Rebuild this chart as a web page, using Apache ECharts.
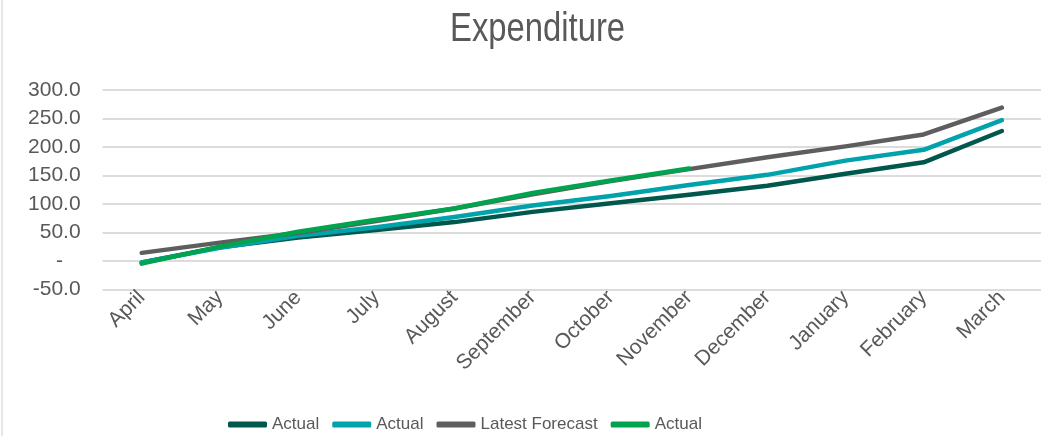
<!DOCTYPE html>
<html>
<head>
<meta charset="utf-8">
<title>Expenditure</title>
<script src="https://cdn.jsdelivr.net/npm/echarts@6/dist/echarts.min.js"></script>
<style>
  html, body { margin: 0; padding: 0; background: #ffffff; }
  #chart { width: 1041px; height: 436px; }
</style>
</head>
<body>
<div id="chart"></div>
<script>
// Months of the financial year
const months = ['April', 'May', 'June', 'July', 'August', 'September', 'October',
  'November', 'December', 'January', 'February', 'March'];

// Cumulative expenditure per month
const actualDark = [-3, 24, 41, 54, 68, 86, 101, 116, 132, 153, 173, 228];
const actualTeal = [-3, 23, 44, 59, 77, 97, 114, 133, 151, 176, 195, 247];
const latestForecast = [14, 32, 49, 70, 92, 117, 140, 161, 182, 201, 222, 269];
const actualGreen = [-5, 25, 51, 72, 92, 119, 141, 162, null, null, null, null];

// Value axis range
const yMin = -50;
const yMax = 300;
const yStep = 50;

const textGrey = '#595959';
const chart = echarts.init(document.getElementById('chart'), null, { renderer: 'canvas' });

// Series names must be unique for the legend; trailing spaces are trimmed when shown
function lineSeries(name, data, color) {
  return {
    name: name,
    type: 'line',
    data: data,
    symbol: 'none',
    smooth: false,
    connectNulls: false,
    lineStyle: { color: color, width: 4.5, cap: 'round', join: 'round' },
    itemStyle: { color: color },
    emphasis: { disabled: true }
  };
}

chart.setOption({
  backgroundColor: '#ffffff',
  animation: false,
  legend: {
    left: 228,
    top: 416,
    padding: 0,
    itemGap: 13,
    itemWidth: 39,
    itemHeight: 6,
    icon: 'roundRect',
    formatter: function (name) { return name.trim(); },
    textStyle: {
      fontFamily: 'Liberation Sans',
      fontSize: 17,
      color: textGrey
    }
  },
  grid: {
    left: 102.6,
    right: -5.6,
    top: 90,
    bottom: 146.7,
    containLabel: false
  },
  xAxis: {
    type: 'category',
    data: months,
    boundaryGap: true,
    axisLine: { show: false },
    axisTick: { show: false },
    axisLabel: {
      rotate: 45,
      margin: 5,
      interval: 0,
      fontFamily: 'Liberation Sans',
      fontSize: 21,
      color: textGrey
    }
  },
  yAxis: {
    type: 'value',
    min: yMin,
    max: yMax,
    interval: yStep,
    axisLine: { show: false },
    axisTick: { show: false },
    splitLine: { lineStyle: { color: '#dcdcdc', width: 2 } },
    axisLabel: {
      margin: 22,
      fontFamily: 'Liberation Sans',
      fontSize: 21,
      color: textGrey,
      formatter: function (v) {
        return v === 0 ? '-\u00a0\u00a0\u00a0' : v.toFixed(1);
      }
    }
  },
  graphic: [
    {
      // chart frame edge on the left
      type: 'rect',
      shape: { x: 1, y: 0, width: 2, height: 436 },
      style: { fill: '#e6e6e6' },
      silent: true
    },
    {
      // condensed chart title
      type: 'text',
      x: 450,
      y: 10,
      scaleX: 0.82,
      silent: true,
      style: {
        text: 'Expenditure',
        x: 0,
        y: 0,
        verticalAlign: 'top',
        font: 'normal 40px "Liberation Sans", Arial, sans-serif',
        fill: textGrey
      }
    }
  ],
  series: [
    lineSeries('Actual', actualDark, '#00574B'),
    lineSeries('Actual ', actualTeal, '#00A2AB'),
    lineSeries('Latest Forecast', latestForecast, '#5E5E5E'),
    lineSeries('Actual  ', actualGreen, '#00A34E')
  ]
});
</script>
</body>
</html>
